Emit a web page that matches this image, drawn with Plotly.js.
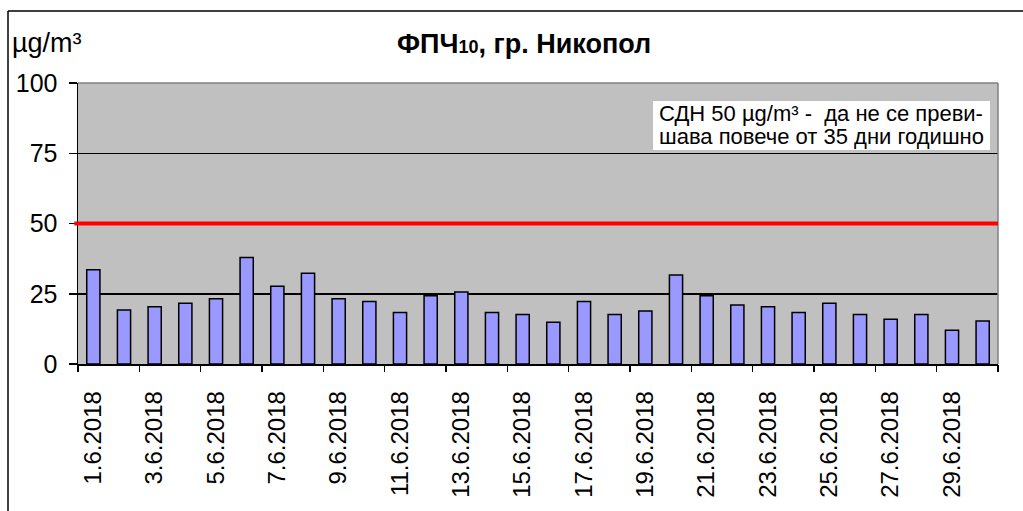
<!DOCTYPE html>
<html>
<head>
<meta charset="utf-8">
<script src="https://cdn.plot.ly/plotly-3.0.1.min.js"></script>
<style>html,body{margin:0;padding:0;background:#fff}#chart{width:1023px;height:511px}</style>
</head>
<body>
<div id="chart"></div>
<script>
// Data
const dates = ['1.6.2018','2.6.2018','3.6.2018','4.6.2018','5.6.2018','6.6.2018','7.6.2018','8.6.2018','9.6.2018','10.6.2018',
  '11.6.2018','12.6.2018','13.6.2018','14.6.2018','15.6.2018','16.6.2018','17.6.2018','18.6.2018','19.6.2018','20.6.2018',
  '21.6.2018','22.6.2018','23.6.2018','24.6.2018','25.6.2018','26.6.2018','27.6.2018','28.6.2018','29.6.2018','30.6.2018'];
const pm10 = [33.5, 19.2, 20.4, 21.6, 23.2, 37.9, 27.7, 32.3, 23.2, 22.2,
  18.3, 24.3, 25.6, 18.3, 17.6, 14.9, 22.2, 17.6, 18.9, 31.7,
  24.3, 21.0, 20.4, 18.3, 21.6, 17.6, 15.9, 17.6, 12.0, 15.3];
const limitValue = 50;
const yTicks = [0, 25, 50, 75, 100];
const titleText = '<b>ФПЧ<span style="font-size:18px">10</span>, гр. Никопол</b>';
const unitText = 'µg/m³';
const noteLine1 = 'СДН 50 µg/m³ -  да не се преви-';
const noteLine2 = 'шава повече от 35 дни годишно';

const FONT = 'Arial, "Liberation Sans", sans-serif';
const n = dates.length;
const xpos = dates.map((d, i) => i + 1);
const labelIdx = dates.map((d, i) => i).filter(i => i % 2 === 0);
const boundaries = [];
for (let i = 0; i <= n; i += 2) boundaries.push(i + 0.5);

// pixel helpers for the plot area (l=78, r=998, top=83, bottom=364)
const PL = 78, PW = 920, PB = 364, PH = 281;
const px = v => (v - PL) / PW;
const py = v => (PB - v) / PH;

const traces = [{
  type: 'bar',
  x: xpos,
  y: pm10,
  marker: {color: '#9999FF', line: {color: '#000000', width: 1.5}},
  hoverinfo: 'y'
}, {
  type: 'scatter', mode: 'none', x: [0.5], y: [0], xaxis: 'x2', showlegend: false, hoverinfo: 'skip'
}];

const layout = {
  width: 1023, height: 511,
  margin: {l: 78, r: 25, t: 83, b: 147, pad: 0},
  paper_bgcolor: '#ffffff',
  plot_bgcolor: '#C0C0C0',
  showlegend: false,
  bargap: 0.57,
  font: {family: FONT, color: '#000000'},
  xaxis: {
    range: [0.5, n + 0.5],
    tickmode: 'array',
    tickvals: labelIdx.map(i => xpos[i]),
    ticktext: labelIdx.map(i => dates[i]),
    tickangle: -90,
    ticks: '',
    ticklabelstandoff: 16,
    tickfont: {family: FONT, size: 24, color: '#000'},
    showline: true, linecolor: '#000', linewidth: 1.5,
    showgrid: false, zeroline: false, fixedrange: true
  },
  xaxis2: {
    overlaying: 'x',
    range: [0.5, n + 0.5],
    tickmode: 'array',
    tickvals: boundaries,
    ticks: 'outside', ticklen: 7, tickwidth: 1.5, tickcolor: '#000',
    showticklabels: false, showgrid: false, zeroline: false, showline: false,
    side: 'bottom', anchor: 'y', fixedrange: true
  },
  yaxis: {
    range: [0, 100],
    tickmode: 'array',
    tickvals: yTicks,
    ticktext: yTicks.map(String),
    ticks: 'outside', ticklen: 8, tickwidth: 1.5, tickcolor: '#000',
    ticklabelstandoff: 6,
    tickfont: {family: FONT, size: 25, color: '#000'},
    showline: true, linecolor: '#000', linewidth: 1.5,
    showgrid: true, gridcolor: '#000', gridwidth: 1.5,
    zeroline: false, fixedrange: true
  },
  shapes: [
    {type: 'line', xref: 'paper', yref: 'paper', x0: 0, x1: 1, y0: 1, y1: 1, line: {color: '#808080', width: 1.5}},
    {type: 'line', xref: 'paper', yref: 'paper', x0: 1, x1: 1, y0: 0, y1: 1, line: {color: '#808080', width: 1.5}},
    {type: 'line', xref: 'paper', yref: 'y', x0: -0.004, x1: 1, y0: limitValue, y1: limitValue, line: {color: '#FF0000', width: 4}},
    {type: 'rect', xref: 'paper', yref: 'paper', x0: px(653), x1: px(990), y0: py(150), y1: py(101), fillcolor: '#ffffff', line: {width: 0}},
    {type: 'line', xref: 'paper', yref: 'paper', x0: px(8), x1: px(8), y0: py(11), y1: py(520), line: {color: '#000', width: 1.5}},
    {type: 'line', xref: 'paper', yref: 'paper', x0: px(8), x1: px(1030), y0: py(11), y1: py(11), line: {color: '#000', width: 1.5}}
  ],
  annotations: [
    {text: titleText, xref: 'paper', yref: 'paper',
     x: px(524), xanchor: 'center', y: py(44), yanchor: 'middle',
     showarrow: false, font: {family: FONT, size: 27, color: '#000'}},
    {text: unitText, xref: 'paper', yref: 'paper', x: px(10), xanchor: 'left', y: py(43), yanchor: 'middle',
     showarrow: false, font: {family: FONT, size: 27, color: '#000'}},
    {text: noteLine1, xref: 'paper', yref: 'paper', x: px(821), xanchor: 'center', y: py(113), yanchor: 'middle',
     showarrow: false, font: {family: FONT, size: 22, color: '#000'}},
    {text: noteLine2, xref: 'paper', yref: 'paper', x: px(821), xanchor: 'center', y: py(136), yanchor: 'middle',
     showarrow: false, font: {family: FONT, size: 22, color: '#000'}}
  ]
};

Plotly.newPlot('chart', traces, layout, {displayModeBar: false, staticPlot: true});
</script>
</body>
</html>
